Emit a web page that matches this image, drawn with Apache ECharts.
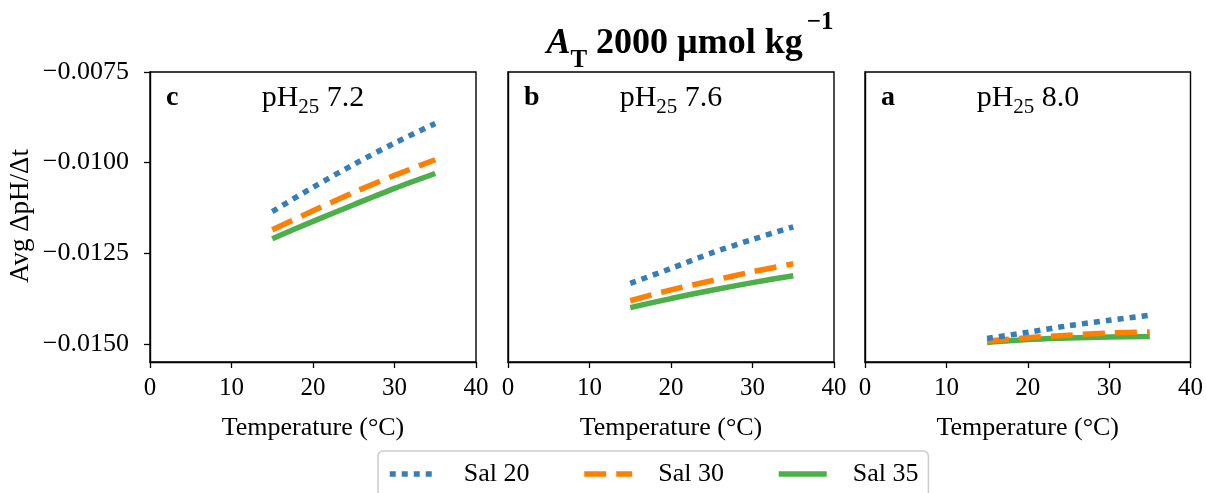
<!DOCTYPE html>
<html>
<head>
<meta charset="utf-8">
<script src="https://cdn.jsdelivr.net/npm/echarts@6/dist/echarts.min.js"></script>
<style>html,body{margin:0;padding:0;background:#fff}#c{width:1206px;height:493px}</style>
</head>
<body>
<div id="c"></div>
<script>
// Temperatures (°C)
const temps = [15, 20, 25, 30, 35];
// Panel c: pH25 7.2
const c_sal20 = [-0.01135, -0.01068, -0.01005, -0.00946, -0.00892];
const c_sal30 = [-0.01185, -0.01133, -0.01082, -0.01035, -0.00992];
const c_sal35 = [-0.01210, -0.01162, -0.01116, -0.01071, -0.01030];
// Panel b: pH25 7.6
const b_sal20 = [-0.01333, -0.01292, -0.01249, -0.01212, -0.01177];
const b_sal30 = [-0.01381, -0.01351, -0.01326, -0.01301, -0.01279];
const b_sal35 = [-0.01400, -0.01375, -0.01352, -0.01331, -0.01312];
// Panel a: pH25 8.0
const a_sal20 = [-0.01485, -0.01468, -0.01450, -0.01435, -0.01421];
const a_sal30 = [-0.01492, -0.01483, -0.01476, -0.01470, -0.01467];
const a_sal35 = [-0.01496, -0.01488, -0.01484, -0.01481, -0.01480];

const seriesNames = ['Sal 20', 'Sal 30', 'Sal 35'];
const panelLetters = ['c', 'b', 'a'];
const panelPH = ['7.2', '7.6', '8.0'];
const xTicks = [0, 10, 20, 30, 40];
const yTicks = [-0.0150, -0.0125, -0.0100, -0.0075];

const panels = [
  [c_sal20, c_sal30, c_sal35],
  [b_sal20, b_sal30, b_sal35],
  [a_sal20, a_sal30, a_sal35]
];

const FONT = "'Liberation Serif','DejaVu Serif','Times New Roman',serif";
const colors = ['#377eb8', '#ff7f00', '#4daf4a'];
const dashes = [[6, 6], [22, 10], 'solid'];
const gridLefts = [150, 508, 865];
const GW = 326, GTOP = 72, GH = 290;

const chart = echarts.init(document.getElementById('c'), null, {renderer: 'canvas'});

const grids = [], xAxes = [], yAxes = [], series = [], graphics = [];
gridLefts.forEach((L, i) => {
  grids.push({left: L, top: GTOP, width: GW, height: GH, show: true,
    borderColor: '#000', borderWidth: 1.4, backgroundColor: 'transparent'});
  xAxes.push({type: 'value', gridIndex: i, min: 0, max: 40, interval: 10,
    name: 'Temperature (°C)', nameLocation: 'middle', nameGap: 53,
    nameTextStyle: {fontFamily: FONT, fontSize: 26, color: '#000'},
    axisLine: {show: true, onZero: false, lineStyle: {color: '#000', width: 1.4}},
    axisTick: {show: true, inside: false, length: 6, lineStyle: {color: '#000', width: 1.3}},
    axisLabel: {fontFamily: FONT, fontSize: 25, color: '#000', margin: 14},
    splitLine: {show: false}});
  yAxes.push({type: 'value', gridIndex: i, min: -0.0155, max: -0.0075,
    axisLine: {show: true, onZero: false, lineStyle: {color: '#000', width: 1.4}},
    axisTick: {show: i === 0, length: 6, lineStyle: {color: '#000', width: 1.3}, customValues: yTicks},
    axisLabel: {show: i === 0, fontFamily: FONT, fontSize: 26, color: '#000', margin: 21,
      customValues: yTicks,
      formatter: v => (v < 0 ? '\u2212' : '') + Math.abs(v).toFixed(4)},
    splitLine: {show: false}});
  panels[i].forEach((vals, k) => {
    series.push({type: 'line', name: seriesNames[k], xAxisIndex: i, yAxisIndex: i,
      data: temps.map((t, j) => [t, vals[j]]),
      smooth: 0.3, symbol: 'none', showSymbol: false,
      z: 3 + (2 - k),
      lineStyle: {color: colors[k], width: 5.5, type: dashes[k], cap: 'butt'},
      itemStyle: {color: colors[k]}});
  });
  graphics.push({type: 'text', x: L + 16, y: 98,
    style: {text: panelLetters[i], font: 'bold 28px ' + FONT, fill: '#000',
      align: 'left', verticalAlign: 'middle'}});
  graphics.push({type: 'text', x: L + GW / 2, y: 98,
    style: {text: '{n|pH}{s|25}{n| ' + panelPH[i] + '}', align: 'center', verticalAlign: 'middle',
      rich: {
        n: {fontFamily: FONT, fontSize: 30, color: '#000', lineHeight: 34},
        s: {fontFamily: FONT, fontSize: 21, color: '#000', lineHeight: 22, verticalAlign: 'bottom', padding: [0, 0, -3, 0]}
      }}});
});

graphics.push({type: 'text', x: 21, y: 216, rotation: Math.PI / 2,
  style: {text: 'Avg \u0394pH/\u0394t', font: '27px ' + FONT, fill: '#000', align: 'center', verticalAlign: 'middle'}});

graphics.push({type: 'text', x: 690, y: 44,
  style: {text: '{a|A}{t|T}{m| 2000 \u00b5mol kg}{p|\u22121}', align: 'center', verticalAlign: 'middle',
    rich: {
      a: {fontFamily: FONT, fontSize: 36, fontWeight: 'bold', fontStyle: 'italic', color: '#000', lineHeight: 44},
      t: {fontFamily: FONT, fontSize: 25, fontWeight: 'bold', color: '#000', lineHeight: 26, verticalAlign: 'bottom', padding: [0, 0, -7, 0]},
      m: {fontFamily: FONT, fontSize: 36, fontWeight: 'bold', color: '#000', lineHeight: 44},
      p: {fontFamily: FONT, fontSize: 25, fontWeight: 'bold', color: '#000', lineHeight: 20, verticalAlign: 'top', padding: [-12, 0, 0, 4]}
    }}});

chart.setOption({
  backgroundColor: '#fff',
  animation: false,
  grid: grids,
  xAxis: xAxes,
  yAxis: yAxes,
  series: series,
  legend: {
    data: seriesNames, left: 378, top: 451, orient: 'horizontal',
    padding: [10, 10, 30, 9], itemWidth: 48, itemHeight: 20, itemGap: 52,
    borderColor: '#cccccc', borderWidth: 1.5, borderRadius: 5, backgroundColor: '#fff',
    itemStyle: {opacity: 0},
    lineStyle: {width: 5.5},
    textStyle: {fontFamily: FONT, fontSize: 26, color: '#000', padding: [0, 0, 0, 21]},
    selectedMode: false
  },
  graphic: graphics
});
</script>
</body>
</html>
